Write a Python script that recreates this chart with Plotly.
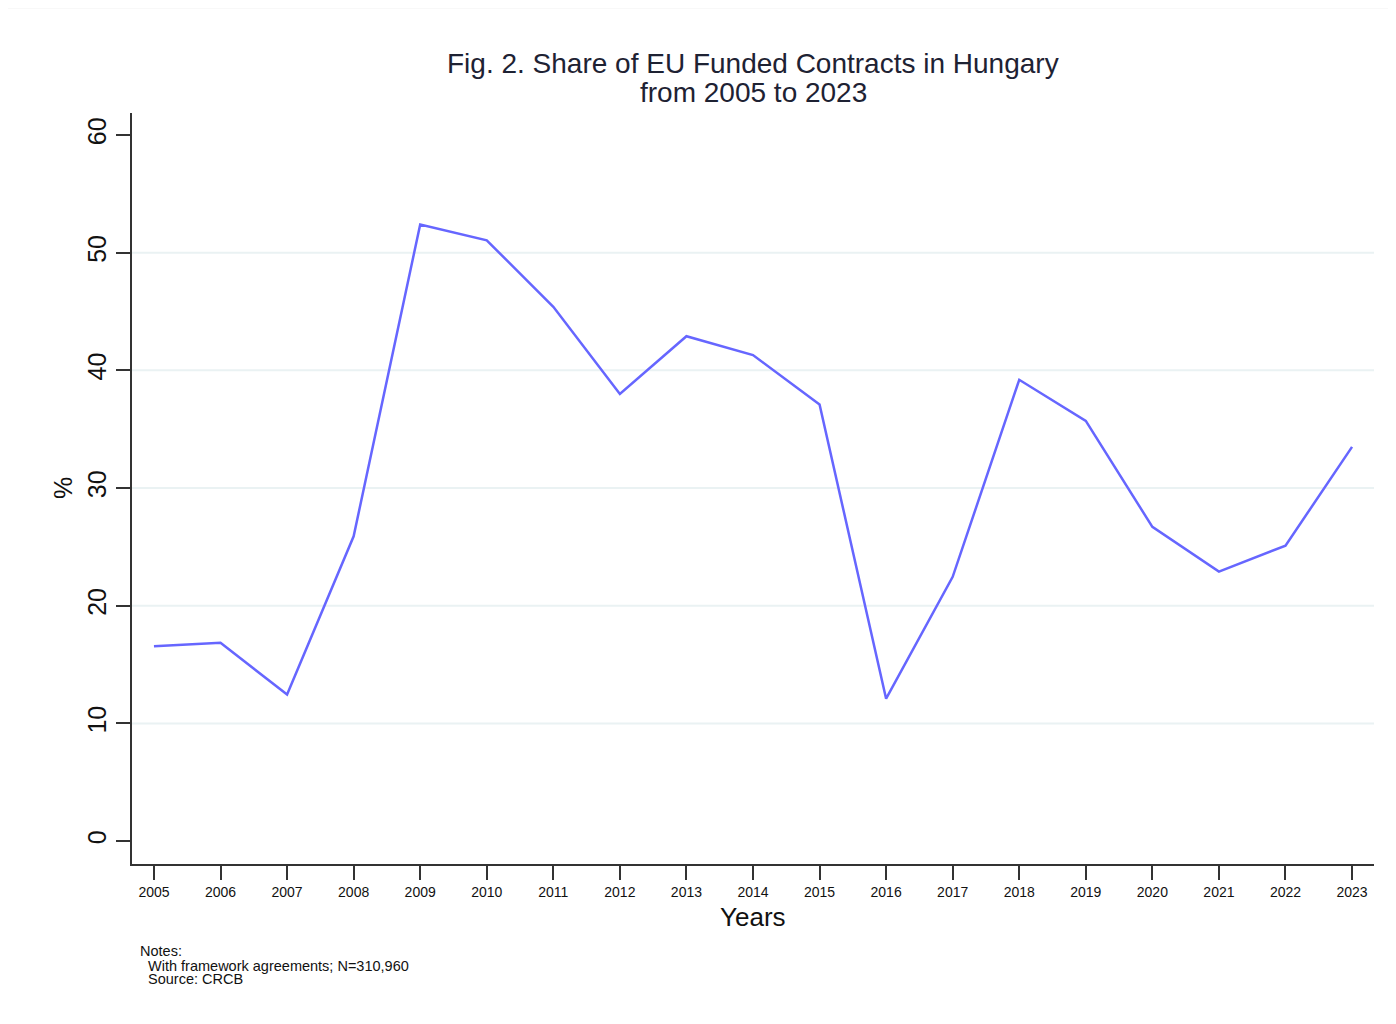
import plotly.graph_objects as go

years = list(range(2005, 2024))
share = [16.55, 16.85, 12.45, 25.9, 52.4, 51.05, 45.4, 38.0, 42.9, 41.3, 37.1,
         12.1, 22.45, 39.2, 35.7, 26.7, 22.9, 25.1, 33.5]
y_ticks = [0, 10, 20, 30, 40, 50, 60]
grid_vals = [10, 20, 30, 40, 50]
title_lines = ["Fig. 2. Share of EU Funded Contracts in Hungary", "from 2005 to 2023"]
note_lines = ["Notes:", "  With framework agreements; N=310,960", "  Source: CRCB"]

# page body has an 8px margin, so work in screen pixels and shift by OFF
OFF = 8
W, H = 1396 - OFF, 1024 - OFF
L_s, R_s, T_s, B_s = 132, 1374, 113, 864   # plot area in screen pixels
L, T = L_s - OFF, T_s - OFF
R = W - (R_s - OFF)
B = H - (B_s - OFF)
PW, PH = R_s - L_s, B_s - T_s
FONT = "Liberation Sans, Arial, sans-serif"


def px_x(x):
    return (x - L_s) / PW


def px_y(y):
    return (B_s - y) / PH


fig = go.Figure()
fig.add_trace(go.Scatter(x=years, y=share, mode="lines",
                         line=dict(color="#6666FF", width=2.5),
                         hoverinfo="x+y", showlegend=False))

shapes = [dict(type="line", xref="paper", x0=0, x1=1, yref="y", y0=v, y1=v,
               line=dict(color="#EAF2F3", width=2), layer="below") for v in grid_vals]
shapes.append(dict(type="rect", xref="paper", yref="paper",
                   x0=px_x(7), x1=px_x(1420), y0=px_y(8), y1=px_y(1040),
                   line=dict(color="#F2F2F2", width=1), layer="below"))

annotations = []
for txt, yy in zip(title_lines, [64, 93]):
    annotations.append(dict(text=txt, xref="paper", yref="paper", x=0.5, y=px_y(yy),
                            xanchor="center", yanchor="middle", showarrow=False,
                            font=dict(family=FONT, size=28, color="#1e2233")))
annotations.append(dict(text="Years", xref="paper", yref="paper", x=0.5, y=px_y(917),
                        xanchor="center", yanchor="middle", showarrow=False,
                        font=dict(family=FONT, size=26, color="#111")))
annotations.append(dict(text="%", xref="paper", yref="paper", x=px_x(63), y=px_y(488),
                        xanchor="center", yanchor="middle", showarrow=False, textangle=-90,
                        font=dict(family=FONT, size=25, color="#111")))
for txt, xx, yy in zip(note_lines, [138, 138, 138], [951, 966, 979]):
    annotations.append(dict(text=txt.replace(" ", "&nbsp;") if txt.startswith(" ") else txt,
                            xref="paper", yref="paper", x=px_x(xx), y=px_y(yy),
                            xanchor="left", yanchor="middle", showarrow=False,
                            font=dict(family=FONT, size=14.5, color="#111")))

fig.update_layout(
    width=W, height=H,
    margin=dict(l=L, r=R, t=T, b=B, pad=0),
    paper_bgcolor="white", plot_bgcolor="white",
    font=dict(family=FONT, color="#111"),
    shapes=shapes, annotations=annotations,
    xaxis=dict(range=[2004.67, 2023.33], tickvals=years, ticktext=[str(y) for y in years],
               showgrid=False, zeroline=False, showline=True, linecolor="#333", linewidth=2,
               ticks="outside", ticklen=14, tickwidth=2, tickcolor="#333",
               tickfont=dict(family=FONT, size=14, color="#111")),
    yaxis=dict(range=[-1.95, 61.87], tickvals=y_ticks, showgrid=False, zeroline=False,
               showline=True, linecolor="#333", linewidth=2,
               ticks="outside", ticklen=14, tickwidth=2, tickcolor="#333",
               tickangle=-90, tickfont=dict(family=FONT, size=25, color="#111")),
)

fig.write_html("out.html")
